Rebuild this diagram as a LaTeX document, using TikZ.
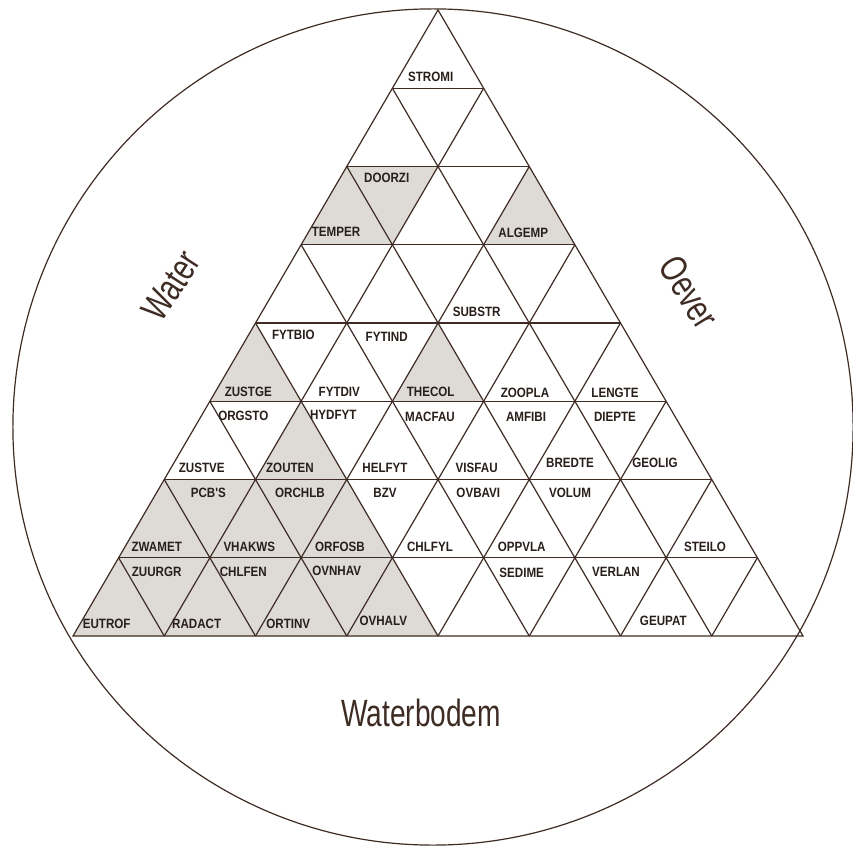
\documentclass[tikz,border=0pt]{standalone}
\usepackage{fontspec}
\setmainfont{Liberation Sans}
\newfontfamily\lblfont{Liberation Sans}[FakeStretch=0.86]
\newfontfamily\bigfont{Liberation Sans}[FakeStretch=0.74]
\definecolor{ink}{RGB}{62,44,36}
\definecolor{txt}{RGB}{40,30,26}
\definecolor{stip}{RGB}{222,218,213}
\tikzset{
  lbl/.style={text=txt, font=\lblfont\bfseries\fontsize{9.6}{10}\selectfont, inner sep=0pt},
  big/.style={text=ink, font=\bigfont\fontsize{27}{28}\selectfont, inner sep=0pt},
  gridline/.style={draw=ink, line width=0.85pt, line join=miter},
  shade/.style={fill=stip}
}
\begin{document}
\begin{tikzpicture}[x=0.025cm,y=-0.025cm]
\useasboundingbox (0,0) rectangle (853,847);
\fill[white] (0,0) rectangle (853,847);
% grid points
\foreach \k in {0,...,8}{
  \foreach \j in {0,...,\k}{
    \coordinate (P-\k-\j) at ({438+(2*\j-\k)*45.625},{10+78.25*\k});
  }
}
% circle
\draw[ink, line width=0.85pt] (433,427) ellipse [x radius=10.5cm, y radius=10.45cm];
% shaded cells
\fill[shade] (P-2-0) -- (P-2-1) -- (P-3-1) -- (P-3-0) -- cycle;
\fill[shade] (P-2-2) -- (P-3-2) -- (P-3-3) -- cycle;
\fill[shade] (P-4-0) -- (P-5-0) -- (P-5-1) -- cycle;
\fill[shade] (P-4-2) -- (P-5-2) -- (P-5-3) -- cycle;
\fill[shade] (P-5-1) -- (P-6-1) -- (P-6-2) -- cycle;
\fill[shade] (P-6-0) -- (P-6-2) -- (P-7-3) -- (P-7-0) -- cycle;
\fill[shade] (P-7-0) -- (P-7-3) -- (P-8-4) -- (P-8-0) -- cycle;
% outer triangle
\draw[gridline] (P-0-0) -- (P-8-0) -- (P-8-8) -- cycle;
% inner lines
\foreach \m in {1,...,7}{
  \draw[gridline] (P-\m-0) -- (P-\m-\m);
  \draw[gridline] (P-\m-\m) -- (P-8-\m);
  \pgfmathtruncatemacro{\e}{8-\m}
  \draw[gridline] (P-\m-0) -- (P-8-\e);
}
% cell labels
\node[lbl] (stromi) at (430.7,76.7) {STROMI};
\node[lbl] (doorzi) at (386.7,178.3) {DOORZI};
\node[lbl] (temper) at (336,232.3) {TEMPER};
\node[lbl] (algemp) at (523.3,233.3) {ALGEMP};
\node[lbl] (substr) at (476.7,311.7) {SUBSTR};
\node[lbl] (fytbio) at (293.3,335) {FYTBIO};
\node[lbl] (fytind) at (386.7,337.3) {FYTIND};
\node[lbl] (zustge) at (248.3,391.7) {ZUSTGE};
\node[lbl] (fytdiv) at (339.3,391.7) {FYTDIV};
\node[lbl] (thecol) at (430.7,391.7) {THECOL};
\node[lbl] (zoopla) at (525,392.7) {ZOOPLA};
\node[lbl] (lengte) at (615,392.7) {LENGTE};
\node[lbl] (orgsto) at (243.3,416) {ORGSTO};
\node[lbl] (hydfyt) at (333.3,415) {HYDFYT};
\node[lbl] (macfau) at (430,417.3) {MACFAU};
\node[lbl] (amfibi) at (526,416.7) {AMFIBI};
\node[lbl] (diepte) at (615,416.7) {DIEPTE};
\node[lbl] (zustve) at (201.7,467.7) {ZUSTVE};
\node[lbl] (zouten) at (290,467.7) {ZOUTEN};
\node[lbl] (helfyt) at (385,467.7) {HELFYT};
\node[lbl] (visfau) at (476.7,467.7) {VISFAU};
\node[lbl] (bredte) at (570,463.3) {BREDTE};
\node[lbl] (geolig) at (655,463.3) {GEOLIG};
\node[lbl] (pcbs) at (208.3,492.7) {PCB'S};
\node[lbl] (orchlb) at (300,492.7) {ORCHLB};
\node[lbl] (bzv) at (385,492.7) {BZV};
\node[lbl] (ovbavi) at (478.3,492.7) {OVBAVI};
\node[lbl] (volum) at (570,492.7) {VOLUM};
\node[lbl] (zwamet) at (156.7,547.3) {ZWAMET};
\node[lbl] (vhakws) at (249.3,547.3) {VHAKWS};
\node[lbl] (orfosb) at (340,547.3) {ORFOSB};
\node[lbl] (chlfyl) at (430,547.3) {CHLFYL};
\node[lbl] (oppvla) at (521.7,547.3) {OPPVLA};
\node[lbl] (steilo) at (705,547.3) {STEILO};
\node[lbl] (zuurgr) at (156.7,571.7) {ZUURGR};
\node[lbl] (chlfen) at (243.3,571.7) {CHLFEN};
\node[lbl] (ovnhav) at (336.7,570.7) {OVNHAV};
\node[lbl] (sedime) at (521.7,572.7) {SEDIME};
\node[lbl] (verlan) at (616,571.7) {VERLAN};
\node[lbl] (eutrof) at (106.7,624) {EUTROF};
\node[lbl] (radact) at (196.7,624) {RADACT};
\node[lbl] (ortinv) at (288.3,624) {ORTINV};
\node[lbl] (ovhalv) at (383.3,620.7) {OVHALV};
\node[lbl] (geupat) at (663.3,620.7) {GEUPAT};
% side labels
\node[big, rotate=57] (water) at (171,286) {Water};
\node[big, rotate=-58] (oever) at (689,292) {Oever};
\node[big] (waterbodem) at (421,713) {Waterbodem};
\end{tikzpicture}
\end{document}
